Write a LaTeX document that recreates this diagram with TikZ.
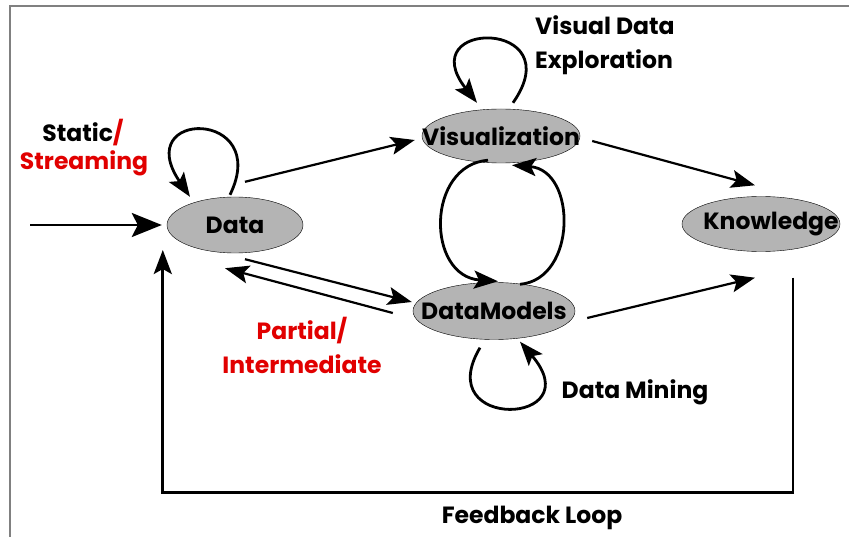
\documentclass[tikz,border=0pt]{standalone}
\usepackage{fontspec}
\setmainfont{Poppins}
\usetikzlibrary{shapes.geometric,arrows.meta}

\definecolor{framegray}{RGB}{128,128,128}
\definecolor{nodegray}{RGB}{180,180,180}
\definecolor{labelred}{RGB}{225,0,0}

\tikzstyle{stage}=[ellipse, draw, thin, fill=nodegray, inner sep=0pt,
                   font=\fontsize{23.5}{26}\selectfont\bfseries]
\tikzstyle{tag}=[inner sep=0pt, font=\fontsize{23.5}{34}\selectfont\bfseries]
\tikzstyle{flow}=[-{Stealth[length=24pt,width=18pt,inset=5pt]}, line width=2.2pt]
\tikzstyle{cycle}=[flow, line width=2.8pt]

\begin{document}
\begin{tikzpicture}[x=1pt,y=-1pt]
    \useasboundingbox (0,0) rectangle (849,537);
    \draw[framegray, line width=2pt] (10,537) -- (10,6) -- (849,6);

    % the four stages
    \node[stage, minimum width=136pt, minimum height=56pt] (data)   at (235,225) {\makebox[0pt]{Data}};
    \node[stage, minimum width=158pt, minimum height=54pt] (vis)    at (501,136) {\makebox[0pt]{Visualization}};
    \node[stage, minimum width=162pt, minimum height=57pt] (models) at (494,311) {\makebox[0pt]{DataModels}};
    \node[stage, minimum width=158pt, minimum height=55pt] (know)   at (761,224) {\makebox[0pt]{\hspace*{20pt}Knowledge}};

    % side labels
    \node[tag] (static) at (83,133) {Static\textcolor{labelred}{/}};
    \node[tag, text=labelred] (stream) at (84,163) {Streaming};
    \node[tag, align=left, anchor=west] (explore) at (535,45) {Visual Data\\Exploration};
    \node[tag, text=labelred, align=center] (partial) at (302,345) {Partial/\\Intermediate};
    \node[tag] (mining) at (635,392) {Data Mining};
    \node[tag] (feedback) at (532,518) {Feedback Loop};

    % incoming data
    \coordinate (src) at (30,225);
    \draw[flow, line width=2.5pt, -{Stealth[length=30pt,width=24pt,inset=6pt]}]
        (src) -- ([shift={(-5,0)}]data.west);

    % straight transitions
    \draw[flow] ([shift={(10,-15)}]data.north)  -- ([shift={(-7,4)}]vis.west);
    \draw[flow] ([shift={(10,6)}]data.south)    -- ([shift={(-1,-9)}]models.west);
    \draw[flow] ([shift={(-20,2)}]models.west)  -- ([shift={(-10,15)}]data.south);
    \draw[flow] ([shift={(12,5)}]vis.east)      -- ([shift={(-6,-11)}]know.north);
    \draw[flow] ([shift={(12,7)}]models.east)   -- ([shift={(-6,26)}]know.south);

    % self loops
    \draw[cycle] ([shift={(-5,-2)}]data.north)
        .. controls +(42,-86) and +(-60,-88) .. ([shift={(-45,0)}]data.north);
    \draw[cycle] ([shift={(12,-6)}]vis.north)
        .. controls +(59,-84) and +(-66,-84) .. ([shift={(-24,-6)}]vis.north);
    \draw[cycle] ([shift={(-14,8)}]models.south)
        .. controls +(-50,84) and +(72,84) .. ([shift={(26,2)}]models.south);

    % visualization <-> models
    \draw[cycle] ([shift={(-13,-3)}]vis.south)
        .. controls +(-62,5) and +(-72,-5) .. ([shift={(4,-1)}]models.north);
    \draw[cycle] ([shift={(26,2)}]models.north)
        .. controls +(57,-5) and +(65,5) .. ([shift={(11,2)}]vis.south);

    % feedback from knowledge back to data
    \draw[flow, line width=2.8pt] ([shift={(32,26)}]know.south) -- ++(0,215)
        -| ([shift={(-4,25)}]data.west);
\end{tikzpicture}
\end{document}
